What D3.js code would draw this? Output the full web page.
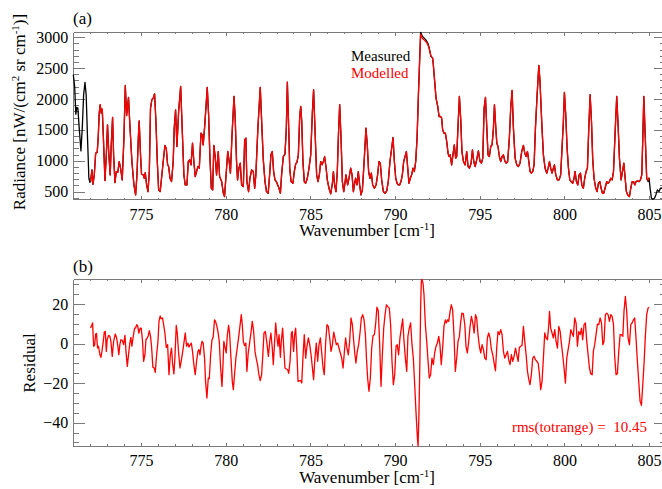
<!DOCTYPE html>
<html>
<head>
<meta charset="utf-8">
<script src="https://cdn.jsdelivr.net/npm/d3@7"></script>
<style>
  body { margin: 0; background: #fff; }
  svg { display: block; }
  text { font-family: "Liberation Serif", "Times New Roman", serif; fill: #000; }
  .axis .domain, .axis .tick line { stroke: #7a7a7a; stroke-width: 1; shape-rendering: crispEdges; }
  .axis text { font-size: 16px; font-family: "Liberation Serif", serif; fill: #000; }
</style>
</head>
<body>
<svg id="chart" width="662" height="489"></svg>
<script>
// Spectral window (cm^-1) of the radiance spectrum
const wavenumber = [
  771.00,771.08,771.15,771.21,771.27,771.35,771.45,771.53,771.61,771.69,771.76,771.84,771.92,771.98,
  772.02,772.10,772.16,772.24,772.32,772.41,772.47,772.53,772.59,772.65,772.71,772.77,772.87,772.95,
  773.02,773.10,773.18,773.24,773.32,773.38,773.46,773.54,773.63,773.71,773.79,773.89,773.99,
  774.07,774.15,774.26,774.34,774.46,774.58,774.68,774.76,774.84,774.89,774.97,
  775.03,775.13,775.19,775.25,775.33,775.41,775.49,775.56,775.64,775.72,775.80,775.88,775.96,
  776.04,776.13,776.21,776.31,776.41,776.49,776.57,776.63,776.71,776.80,776.90,776.96,
  777.04,777.12,777.22,777.34,777.43,777.53,777.61,777.71,777.79,777.87,777.95,
  778.04,778.12,778.20,778.28,778.36,778.44,778.54,778.61,778.67,778.75,778.83,778.91,778.99,
  779.07,779.15,779.23,779.30,779.38,779.46,779.56,779.64,779.76,779.86,779.93,
  780.05,780.12,780.20,780.28,780.37,780.49,780.56,780.64,780.70,780.78,780.86,780.94,
  781.04,781.12,781.19,781.25,781.35,781.43,781.53,781.63,781.71,781.78,781.90,
  782.04,782.14,782.22,782.32,782.41,782.51,782.60,782.67,782.75,782.83,782.91,782.99,
  783.07,783.15,783.23,783.30,783.40,783.50,783.58,783.64,783.72,783.78,783.86,783.97,
  784.05,784.13,784.21,784.29,784.37,784.43,784.49,784.56,784.64,784.72,784.82,784.92,
  785.02,785.12,785.19,785.27,785.37,785.45,785.53,785.61,785.69,785.77,785.84,785.92,
  786.00,786.10,786.20,786.30,786.36,786.43,786.51,786.59,786.65,786.73,786.81,786.89,786.97,
  787.04,787.10,787.20,787.28,787.38,787.46,787.54,787.60,787.67,787.75,787.83,787.91,787.99,
  788.07,788.15,788.23,788.28,788.36,788.44,788.52,788.60,788.68,788.78,788.88,788.97,
  789.05,789.13,789.21,789.31,789.41,789.51,789.60,789.70,789.80,789.88,789.96,
  790.04,790.12,790.19,790.27,790.35,790.43,790.51,790.59,790.67,790.75,790.82,790.90,790.98,
  791.06,791.14,791.22,791.30,791.38,791.45,791.51,791.61,791.71,791.81,791.93,
  792.02,792.12,792.22,792.26,792.34,792.42,792.52,792.60,792.69,792.75,792.81,792.89,792.97,
  793.05,793.13,793.19,793.26,793.34,793.42,793.50,793.58,793.64,793.74,793.80,793.88,793.95,
  794.04,794.14,794.23,794.31,794.39,794.49,794.57,794.65,794.73,794.82,794.92,
  795.02,795.10,795.18,795.26,795.34,795.41,795.49,795.57,795.65,795.73,795.81,795.87,795.95,
  796.01,796.08,796.16,796.24,796.32,796.40,796.48,796.56,796.65,796.75,796.83,796.91,796.99,
  797.09,797.19,797.28,797.38,797.48,797.58,797.66,797.74,797.82,797.90,797.97,
  798.05,798.13,798.21,798.29,798.39,798.49,798.56,798.66,798.76,798.86,798.96,
  799.04,799.12,799.19,799.27,799.35,799.41,799.49,799.59,799.69,799.78,799.86,799.94,
  800.00,800.08,800.16,800.24,800.32,800.40,800.49,800.57,800.63,800.71,800.79,800.87,800.95,
  801.03,801.12,801.20,801.28,801.36,801.44,801.52,801.60,801.67,801.75,801.85,801.93,
  802.01,802.09,802.17,802.25,802.32,802.40,802.50,802.58,802.66,802.74,802.82,802.90,802.99,
  803.09,803.17,803.25,803.35,803.43,803.51,803.58,803.66,803.74,803.84,803.92,
  804.00,804.08,804.16,804.23,804.31,804.41,804.49,804.57,804.63,804.69,804.77,804.86,804.94,
  805.00,805.06,805.14,805.22,805.32,805.40,805.49,805.59,805.67,805.77
];

// Measured radiance, nW/(cm^2 sr cm^-1)
const measured = [
  2394,2204,1755,1863,1853,1528,1160,1528,2069,2269,2069,1366,716,651,
  662,852,619,771,1122,1133,1366,1771,1907,1771,1836,1420,679,1095,
  1582,1095,771,1257,1701,1095,646,825,814,987,879,689,1366,
  2220,1733,2026,1582,987,608,446,771,1366,1647,1095,
  781,771,716,808,608,500,825,1853,1988,2015,2085,1636,987,
  527,500,716,987,1247,1203,933,906,716,662,987,1528,
  1825,1230,1798,2204,1528,771,608,608,987,1014,933,
  1284,987,743,825,906,879,1447,1420,1257,1528,1853,2188,1744,
  1041,554,527,1247,1068,771,1149,743,662,473,419,
  879,1150,1000,800,1400,2042,1690,987,689,879,960,608,
  581,1339,1366,662,500,716,852,825,554,771,1528,
  2188,1528,1014,662,500,473,798,1095,1149,825,689,662,
  608,554,473,771,1068,1106,1528,2274,1528,879,662,635,
  825,944,976,1095,1717,1880,1636,987,662,635,716,879,
  1095,1798,2150,1528,771,662,771,987,933,987,1068,906,
  689,554,462,635,825,608,500,825,1366,1907,1366,662,500,
  635,771,608,716,879,771,500,608,716,608,825,608,446,
  527,879,1257,1528,1257,825,716,798,608,554,608,771,
  987,960,689,500,473,511,662,987,1203,1376,987,
  716,635,608,608,662,771,987,1068,1149,879,635,716,771,
  879,825,987,1366,2069,2610,3081,3016,2989,2962,2907,
  2826,2691,2664,2556,2285,2015,1880,1717,1717,1690,1501,1447,1447,
  1312,1122,1068,1095,933,1095,1257,1041,1068,1690,2042,1663,1149,
  987,933,1149,906,879,960,1176,987,906,1014,1160,
  987,960,1041,1853,2026,1582,1095,1068,1230,1257,1528,1907,1528,
  1284,1230,1068,987,1068,1095,998,960,987,1366,1853,2139,1528,
  1041,933,906,960,1149,1247,1122,1068,1149,987,825,
  798,825,933,1528,2069,2545,2285,1636,1095,879,798,
  879,987,879,798,879,933,771,689,689,771,1203,1636,
  2107,1744,1203,879,689,662,635,716,825,662,608,771,798,
  608,554,716,825,879,1528,2069,1636,1041,716,554,500,
  635,662,554,473,473,554,662,635,662,716,689,825,1420,
  2042,1582,1041,689,825,960,743,500,446,419,554,
  662,662,608,662,673,662,689,771,1366,2042,1420,716,662,
  716,554,392,375,392,446,527,500,554,554
];

// Modelled radiance over the fitted window (772-805 cm^-1); null outside it
const modelled = [
  null,null,null,null,null,null,null,null,null,null,null,null,null,null,
  662,852,619,771,1122,1133,1366,1771,1907,1771,1836,1420,679,1095,
  1582,1095,771,1257,1701,1095,646,825,814,987,879,689,1366,
  2220,1733,2026,1582,987,608,446,771,1366,1647,1095,
  781,771,716,808,608,500,825,1853,1988,2015,2085,1636,987,
  527,500,716,987,1247,1203,933,906,716,662,987,1528,
  1825,1230,1798,2204,1528,771,608,608,987,1014,933,
  1284,987,743,825,906,879,1447,1420,1257,1528,1853,2188,1744,
  1041,554,527,1247,1068,771,1149,743,662,473,419,
  879,1150,1000,800,1400,2042,1690,987,689,879,960,608,
  581,1339,1366,662,500,716,852,825,554,771,1528,
  2188,1528,1014,662,500,473,798,1095,1149,825,689,662,
  608,554,473,771,1068,1106,1528,2274,1528,879,662,635,
  825,944,976,1095,1717,1880,1636,987,662,635,716,879,
  1095,1798,2150,1528,771,662,771,987,933,987,1068,906,
  689,554,462,635,825,608,500,825,1366,1907,1366,662,500,
  635,771,608,716,879,771,500,608,716,608,825,608,446,
  527,879,1257,1528,1257,825,716,798,608,554,608,771,
  987,960,689,500,473,511,662,987,1203,1376,987,
  716,635,608,608,662,771,987,1068,1149,879,635,716,771,
  879,825,987,1366,2069,2610,3050,2985,2960,2935,2885,
  2810,2691,2664,2556,2285,2015,1880,1717,1717,1690,1501,1447,1447,
  1312,1122,1068,1095,933,1095,1257,1041,1068,1690,2042,1663,1149,
  987,933,1149,906,879,960,1176,987,906,1014,1160,
  987,960,1041,1853,2026,1582,1095,1068,1230,1257,1528,1907,1528,
  1284,1230,1068,987,1068,1095,998,960,987,1366,1853,2139,1528,
  1041,933,906,960,1149,1247,1122,1068,1149,987,825,
  798,825,933,1528,2069,2545,2285,1636,1095,879,798,
  879,987,879,798,879,933,771,689,689,771,1203,1636,
  2107,1744,1203,879,689,662,635,716,825,662,608,771,798,
  608,554,716,825,879,1528,2069,1636,1041,716,554,500,
  635,662,554,473,473,554,662,635,662,716,689,825,1420,
  2042,1582,1041,689,825,960,743,500,446,419,554,
  662,662,608,662,673,662,689,771,1366,2042,1420,716,680,
  730,null,null,null,null,null,null,null,null,null
];

// Residual (measured - modelled) sampled over the fitted window
const residualWavenumber = [
  772.02,772.10,772.14,772.20,772.26,772.32,772.37,772.43,772.49,772.57,772.63,772.69,772.77,772.83,772.89,772.95,
  773.00,773.08,773.16,773.22,773.30,773.38,773.48,773.56,773.63,773.69,773.75,773.81,773.89,773.97,
  774.05,774.11,774.19,774.26,774.34,774.40,774.46,774.54,774.62,774.68,774.74,774.80,774.87,774.95,
  775.01,775.09,775.15,775.23,775.29,775.37,775.43,775.49,775.56,775.62,775.70,775.78,775.84,775.92,
  776.00,776.06,776.13,776.19,776.27,776.35,776.41,776.49,776.57,776.65,776.73,776.80,776.86,776.94,
  777.00,777.08,777.14,777.22,777.30,777.37,777.45,777.53,777.61,777.69,777.77,777.83,777.91,777.97,
  778.04,778.12,778.20,778.28,778.36,778.42,778.48,778.54,778.60,778.67,778.75,778.81,778.89,778.97,
  779.03,779.11,779.19,779.26,779.34,779.40,779.48,779.54,779.62,779.70,779.78,779.84,779.89,779.97,
  780.03,780.09,780.17,780.23,780.31,780.39,780.45,780.52,780.60,780.68,780.76,780.84,780.92,780.98,
  781.04,781.11,781.19,781.25,781.33,781.41,781.49,781.57,781.65,781.73,781.80,781.88,781.96,
  782.04,782.12,782.18,782.26,782.34,782.42,782.52,782.60,782.67,782.75,782.81,782.89,782.95,
  783.03,783.09,783.15,783.23,783.28,783.36,783.44,783.50,783.58,783.66,783.72,783.80,783.88,783.93,
  784.01,784.07,784.13,784.21,784.27,784.35,784.43,784.49,784.56,784.64,784.72,784.80,784.88,784.96,
  785.04,785.12,785.19,785.27,785.35,785.43,785.51,785.59,785.67,785.75,785.82,785.90,785.98,
  786.06,786.14,786.22,786.30,786.38,786.45,786.53,786.61,786.69,786.77,786.85,786.93,
  787.01,787.08,787.16,787.24,787.32,787.40,787.48,787.56,787.63,787.69,787.77,787.85,787.93,
  788.01,788.09,788.17,788.25,788.32,788.38,788.46,788.54,788.62,788.70,788.78,788.86,788.93,
  789.01,789.09,789.17,789.25,789.33,789.41,789.49,789.56,789.66,789.74,789.82,789.90,789.98,
  790.06,790.13,790.21,790.29,790.37,790.45,790.53,790.61,790.69,790.76,790.84,790.92,
  791.00,791.08,791.16,791.24,791.32,791.36,791.41,791.47,791.51,791.55,791.59,791.65,791.71,791.79,791.87,791.95,
  792.02,792.10,792.18,792.26,792.34,792.42,792.50,792.58,792.65,792.73,792.81,792.89,792.97,
  793.03,793.11,793.17,793.25,793.32,793.40,793.48,793.56,793.64,793.72,793.80,793.88,793.95,
  794.03,794.12,794.19,794.27,794.35,794.43,794.51,794.59,794.67,794.75,794.82,794.90,794.98,
  795.06,795.14,795.22,795.30,795.38,795.45,795.53,795.61,795.69,795.77,795.85,795.93,
  796.01,796.08,796.16,796.24,796.32,796.40,796.48,796.56,796.64,796.71,796.79,796.87,796.95,
  797.03,797.11,797.19,797.27,797.34,797.42,797.50,797.58,797.66,797.74,797.82,797.90,797.97,
  798.05,798.13,798.21,798.29,798.37,798.45,798.53,798.60,798.68,798.76,798.84,798.92,
  799.00,799.08,799.12,799.19,799.27,799.35,799.43,799.51,799.59,799.67,799.75,799.82,799.90,799.98,
  800.06,800.14,800.22,800.30,800.38,800.45,800.53,800.61,800.69,800.77,800.85,800.93,
  801.01,801.08,801.16,801.24,801.32,801.40,801.48,801.56,801.64,801.71,801.79,801.87,801.95,
  802.03,802.11,802.19,802.27,802.34,802.42,802.50,802.58,802.66,802.74,802.82,802.90,802.97,
  803.05,803.13,803.21,803.29,803.37,803.45,803.52,803.60,803.68,803.76,803.84,803.92,
  804.00,804.08,804.15,804.23,804.31,804.39,804.47,804.55,804.63,804.71,804.78,804.86,804.94,805.00
];
const residual = [
  7.9,9.6,10.5,-1.3,-0.8,4.9,5.2,-2.2,-1.3,-5.6,-6.9,-3.9,1.2,5.9,6.2,-3.9,
  2.0,4.2,3.7,1.2,-6.4,1.2,4.9,2.9,-1.3,-5.6,-0.5,2.0,1.7,-0.5,
  4.2,-3.9,-11.5,-5.6,0.3,3.2,-1.3,3.7,7.9,7.9,9.6,9.1,5.4,7.9,
  7.9,1.2,-8.9,-5.6,2.0,2.9,4.2,6.6,3.7,-1.3,-12.0,-12.3,-14.5,-5.6,
  1.2,11.3,14.0,12.6,13.0,8.8,5.4,-1.9,-0.5,-15.7,-5.6,-2.2,-9.8,-15.3,
  -7.3,9.3,5.4,-4.7,-12.3,-8.9,-4.7,0.3,5.4,-1.3,0.3,-1.7,-0.5,0.3,
  -3.9,-10.6,-15.7,-8.9,-3.9,-3.0,-5.6,-1.3,1.2,0.3,-7.3,-19.1,-27.5,-17.4,
  -17.7,-5.6,2.0,3.2,12.1,11.3,8.8,6.2,1.2,-12.3,-21.6,-10.6,1.2,-2.2,
  -4.7,3.7,9.3,5.4,-7.3,-19.1,-23.3,-15.7,-7.3,-2.2,2.9,8.8,14.7,9.6,
  1.2,-1.0,0.3,-14.0,-4.7,0.3,5.4,11.3,6.2,-3.9,-7.3,-10.6,-15.7,
  -18.7,-15.7,-7.3,5.4,6.2,1.2,-6.4,1.2,5.4,-2.2,-10.6,1.2,10.5,
  2.9,-1.3,4.6,-6.9,1.2,7.9,-3.9,-12.3,-12.8,-13.2,-15.0,-8.9,5.4,6.2,
  -3.9,4.6,7.9,-5.6,-19.1,-18.7,-18.7,-19.9,-7.3,4.6,-7.3,-1.3,2.9,-0.5,
  -5.6,-12.3,-18.2,-7.3,0.3,-8.9,-0.5,2.9,-4.7,-12.3,-15.7,0.3,9.6,
  8.8,2.9,-3.9,-0.5,5.9,2.9,-0.5,0.3,-2.2,-4.7,-7.3,-12.3,
  -3.9,2.9,-2.2,-5.6,1.2,13.0,9.6,1.2,-5.6,-9.8,-3.9,-0.5,5.4,
  13.0,14.7,12.1,4.6,-8.9,-17.4,-24.1,-17.4,-2.2,4.0,4.6,10.5,18.5,
  16.7,0.3,-21.6,-5.6,7.9,14.7,19.7,18.9,18.0,9.6,-8.9,-20.7,-15.7,
  -1.3,-0.5,-5.6,2.9,7.9,12.5,1.2,-7.3,-14.0,3.7,7.9,10.5,
  -0.5,-7.3,-20.7,-35.1,-47.7,-51.8,-35.9,-7.3,18.0,31.5,32.6,30.7,24.8,9.6,1.2,-8.9,
  -17.4,-15.7,-7.3,-10.6,-4.7,-1.3,0.3,3.7,-0.5,-10.6,-2.2,8.8,12.1,
  10.5,12.1,11.3,16.4,19.7,17.2,4.6,-14.0,-7.3,1.2,3.7,11.3,15.5,
  15.2,9.6,-1.3,-4.7,1.2,8.8,13.8,10.5,5.4,14.7,13.0,4.6,-1.3,
  -4.7,-0.5,-3.0,-7.3,-8.1,2.9,5.4,2.9,-3.0,-5.6,-9.8,-13.7,
  -1.3,6.2,4.6,7.1,4.6,-3.9,-7.3,-5.6,-3.9,-8.1,-10.6,-5.6,-8.9,
  -6.4,-2.2,-5.6,-8.9,-1.9,-1.3,-0.8,8.8,1.2,-5.6,-14.0,-18.2,-20.7,
  -15.7,-7.3,-6.4,-8.1,-8.9,-9.8,-15.7,-23.3,-19.1,-7.3,5.4,2.9,
  2.0,9.9,16.4,7.9,5.4,2.9,7.1,1.2,-2.2,8.8,6.2,0.3,-5.6,-12.3,
  -19.9,-7.3,-3.0,1.2,7.1,5.4,3.7,13.0,10.5,-1.3,6.2,4.6,
  7.9,2.0,9.6,10.5,1.2,-5.6,-12.3,-15.3,-15.7,-3.9,-0.5,4.6,9.9,
  9.6,13.0,10.5,-0.5,1.2,14.7,15.5,14.7,11.3,14.7,13.8,9.6,-6.4,
  -15.7,-15.2,-3.9,4.6,4.6,3.7,16.4,24.0,16.4,2.9,-0.5,9.6,
  10.5,12.1,13.0,2.9,-8.9,-19.1,-29.2,-31.2,-20.7,-8.9,3.7,14.7,18.0,18.5
];

const radianceMajorTicks = [500, 1000, 1500, 2000, 2500, 3000];
const radianceMinorTicks = d3.range(400, 3001, 100);
const residualMajorTicks = [-40, -20, 0, 20];
const residualMinorTicks = d3.range(-50, 31, 5);
const wavenumberMajorTicks = [775, 780, 785, 790, 795, 800, 805];
const wavenumberMinorTicks = d3.range(772, 806, 1);
const rmsText = "rms(totrange) =  10.45";

const svg = d3.select("#chart");
const left = 73.3, right = 666;

const x = d3.scaleLinear().domain([771, 806]).range([left, right]);
const yTop = d3.scaleLinear().domain(d3.extent(measured)).range([199.3, 32.3]);
const yBot = d3.scaleLinear().domain(d3.extent(residual)).range([446, 279.3]);

function frame(y, yMajor, yMinor, xMajor, xMinor) {
  const [yb, yt] = y.range();
  const g = svg.append("g");
  const xTick = 3.4, xMinorTick = 1.8, yTick = 11.8, yMinorTick = 5.9;

  g.append("g").attr("class", "axis").attr("transform", `translate(0,${yb})`)
    .call(d3.axisBottom(x).tickValues(xMinor).tickSize(-xMinorTick).tickSizeOuter(0).tickFormat(""));
  g.append("g").attr("class", "axis").attr("transform", `translate(0,${yb})`)
    .call(d3.axisBottom(x).tickValues(xMajor).tickSize(-xTick).tickSizeOuter(0).tickPadding(9).tickFormat(d3.format("d")));
  g.append("g").attr("class", "axis").attr("transform", `translate(0,${yt})`)
    .call(d3.axisTop(x).tickValues(xMinor).tickSize(-xMinorTick).tickSizeOuter(0).tickFormat(""));
  g.append("g").attr("class", "axis").attr("transform", `translate(0,${yt})`)
    .call(d3.axisTop(x).tickValues(xMajor).tickSize(-xTick).tickSizeOuter(0).tickFormat(""));

  g.append("g").attr("class", "axis").attr("transform", `translate(${left},0)`)
    .call(d3.axisLeft(y).tickValues(yMinor).tickSize(-yMinorTick).tickSizeOuter(0).tickFormat(""));
  g.append("g").attr("class", "axis").attr("transform", `translate(${left},0)`)
    .call(d3.axisLeft(y).tickValues(yMajor).tickSize(-yTick).tickSizeOuter(0).tickPadding(5).tickFormat(d3.format("d")));
  g.append("g").attr("class", "axis").attr("transform", `translate(${right},0)`)
    .call(d3.axisRight(y).tickValues(yMinor).tickSize(-yMinorTick).tickSizeOuter(0).tickFormat(""));
  g.append("g").attr("class", "axis").attr("transform", `translate(${right},0)`)
    .call(d3.axisRight(y).tickValues(yMajor).tickSize(-yTick).tickSizeOuter(0).tickFormat(""));
  return g;
}

frame(yTop, radianceMajorTicks, radianceMinorTicks, wavenumberMajorTicks, wavenumberMinorTicks);
frame(yBot, residualMajorTicks, residualMinorTicks, wavenumberMajorTicks, wavenumberMinorTicks);

// Panel (a): spectra
const specLine = (vals) => d3.line()
  .defined((d, i) => vals[i] != null)
  .x((d, i) => x(wavenumber[i]))
  .y((d, i) => yTop(vals[i]))(wavenumber);

svg.append("path").attr("d", specLine(measured))
  .attr("fill", "none").attr("stroke", "#000").attr("stroke-width", 1.3).attr("stroke-linejoin", "round");
svg.append("path").attr("d", specLine(modelled))
  .attr("fill", "none").attr("stroke", "#ff0000").attr("stroke-width", 1.3).attr("stroke-linejoin", "round");

// Panel (b): residual
const resLine = d3.line()
  .x((d, i) => x(residualWavenumber[i]))
  .y((d, i) => yBot(residual[i]));
svg.append("path").attr("d", resLine(residualWavenumber))
  .attr("fill", "none").attr("stroke", "#ff0000").attr("stroke-width", 1.3).attr("stroke-linejoin", "round");

// Labels
function sup(t, s) {
  t.append("tspan").attr("dy", -6).attr("font-size", 11).text(s);
  return t;
}

svg.append("text").attr("x", 73).attr("y", 24).attr("font-size", 17).text("(a)");
svg.append("text").attr("x", 73).attr("y", 272).attr("font-size", 17).text("(b)");

function xTitle(yPos) {
  const t = svg.append("text").attr("x", 367).attr("y", yPos)
    .attr("text-anchor", "middle").attr("font-size", 17);
  t.append("tspan").text("Wavenumber [cm");
  sup(t, "-1");
  t.append("tspan").attr("dy", 6).text("]");
}
xTitle(236);
xTitle(483);

const yt = svg.append("text").attr("transform", "translate(25,112) rotate(-90)")
  .attr("text-anchor", "middle").attr("font-size", 17);
yt.append("tspan").text("Radiance [nW/(cm");
sup(yt, "2");
yt.append("tspan").attr("dy", 6).text(" sr cm");
sup(yt, "-1");
yt.append("tspan").attr("dy", 6).text(")]");

svg.append("text").attr("transform", "translate(35,363) rotate(-90)")
  .attr("text-anchor", "middle").attr("font-size", 17).text("Residual");

svg.append("text").attr("x", 351).attr("y", 61).attr("font-size", 15).text("Measured");
svg.append("text").attr("x", 351).attr("y", 78).attr("font-size", 15).style("fill", "#ff0000").text("Modelled");

svg.append("text").attr("x", 647).attr("y", 432).attr("text-anchor", "end")
  .attr("font-size", 15).style("fill", "#ff0000").style("white-space", "pre").text(rmsText);
</script>
</body>
</html>
